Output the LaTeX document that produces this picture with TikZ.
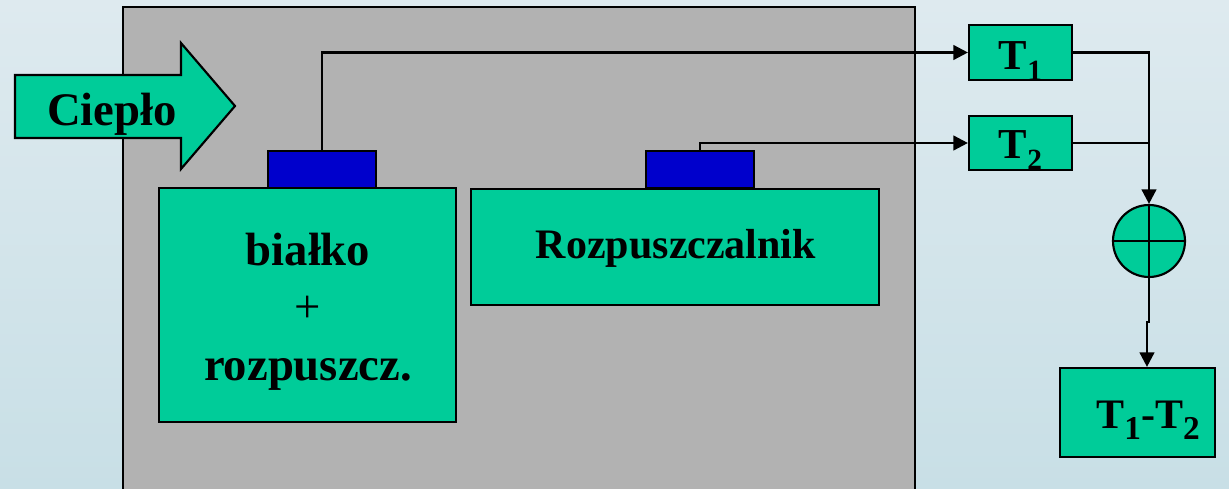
\documentclass[tikz,border=0pt]{standalone}
\usepackage{fontspec}
\setmainfont{Liberation Serif}
\usetikzlibrary{arrows.meta}
\definecolor{bgtop}{RGB}{222,234,239}
\definecolor{bgbot}{RGB}{200,223,230}
\definecolor{chamber}{RGB}{178,178,178}
\definecolor{cellgreen}{RGB}{0,204,153}
\definecolor{sensorblue}{RGB}{0,0,204}
% subscript digit, lowered below the baseline
\newcommand{\lowidx}[2][22]{\raisebox{-8.5pt}{\fontsize{#1}{#1}\selectfont #2}}
\tikzset{
  cell/.style={draw=black, line width=1.6pt, fill=cellgreen, inner sep=0pt},
  sensor/.style={draw=black, line width=1.6pt, fill=sensorblue, inner sep=0pt,
    minimum width=108*0.75pt, minimum height=37*0.75pt},
  label/.style={anchor=base, inner sep=0pt, font=\bfseries},
  wire/.style={line width=1.9pt},
  feed/.style={wire, -{Triangle[length=11pt,width=11pt]}},
}
\begin{document}
\begin{tikzpicture}[x=0.75pt, y=-0.75pt]
\useasboundingbox (0,0) rectangle (1229,489);
% background
\fill[top color=bgtop, bottom color=bgbot] (0,0) rectangle (1229,489);
% calorimeter chamber
\draw[fill=chamber, line width=1.6pt] (123,500) -- (123,7) -- (915,7) -- (915,500);
% heat arrow
\draw[fill=cellgreen, line width=1.6pt]
  (15,75) -- (181,75) -- (181,43) -- (235,106) -- (181,169) -- (181,138) -- (15,138) -- cycle;
\node[label, font=\bfseries\fontsize{35}{42}\selectfont] (heat) at (112,125) {Ciepło};
% cells
\node[cell, minimum width=297*0.75pt, minimum height=234*0.75pt] (sample) at (307.5,305) {};
\node[cell, minimum width=408*0.75pt, minimum height=116*0.75pt] (ref) at (675,247) {};
\node[label, font=\bfseries\fontsize{35}{42}\selectfont] (l1) at (308,265) {białko};
\node[label, font=\fontsize{35}{42}\selectfont] (l2) at (308,322) {+};
\node[label, font=\bfseries\fontsize{35}{42}\selectfont] (l3) at (308,380) {rozpuszcz.};
\node[label, font=\bfseries\fontsize{31.5}{38}\selectfont] (l4) at (676,258) {Rozpuszczalnik};
% sensors
\node[sensor] (s1) at (322,169.5) {};
\node[sensor] (s2) at (700,169.5) {};
% thermometer readouts
\node[cell, minimum width=103*0.75pt, minimum height=55*0.75pt] (t1) at (1020.5,52.5) {};
\node[cell, minimum width=103*0.75pt, minimum height=54*0.75pt] (t2) at (1020.5,143) {};
\node[label, font=\bfseries\fontsize{32}{38}\selectfont] (t1txt) at (1020.5,69) {T\lowidx{1}};
\node[label, font=\bfseries\fontsize{32}{38}\selectfont] (t2txt) at (1020.5,158) {T\lowidx{2}};
% summing junction
\node[draw=black, line width=1.6pt, fill=cellgreen, circle, minimum size=72*0.75pt, inner sep=0pt] (sum) at (1149,241) {};
\draw[line width=1.6pt] (sum.north) -- (sum.south) (sum.west) -- (sum.east);
% difference output
\node[cell, minimum width=155*0.75pt, minimum height=89*0.75pt] (diff) at (1137.5,412.5) {};
\node[label, font=\bfseries\fontsize{31.5}{38}\selectfont] (dtxt) at (1148,428) {T\lowidx[25]{1}-T\lowidx[25]{2}};
% wiring
\draw[feed] (s1.north) |- (t1.west);
\draw[feed] (s2.north) |- (t2.west);
\draw[feed] (t1.east) -| (sum.north);
\draw[wire] (t2.east) -- (t2.east -| sum.north);
\coordinate (jog) at (1147,322);
\draw[feed] (sum.south) -- (sum.south |- jog) -- (jog) -- (jog |- diff.north);
\end{tikzpicture}
\end{document}
